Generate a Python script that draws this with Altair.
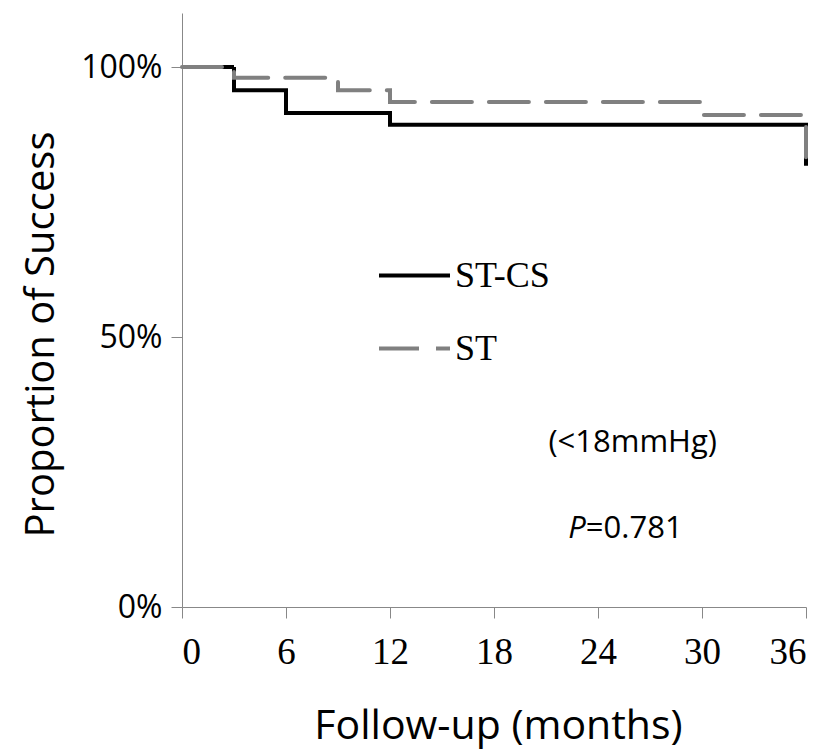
import altair as alt
import pandas as pd

# Kaplan-Meier style step data (months, proportion of success)
groups = ["ST-CS", "ST"]
months_stcs = [0, 3, 6, 12, 36]
succ_stcs = [1.0, 0.957, 0.915, 0.893, 0.817]
months_st = [0, 3, 9, 12, 30, 36]
succ_st = [1.0, 0.98, 0.957, 0.935, 0.911, 0.833]

x_ticks = [0, 6, 12, 18, 24, 30, 36]
y_ticks = [0, 0.5, 1.0]

note_text = ["(<18mmHg)"]
note_x = [26.0]
note_y = [0.287]
p_label = ["P"]
p_value = ["=0.781"]
p_x = [23.3]
p_y = [0.128]

df_stcs = pd.DataFrame({"month": months_stcs, "success": succ_stcs, "group": groups[0]})
df_st = pd.DataFrame({"month": months_st, "success": succ_st, "group": groups[1]})
df_note = pd.DataFrame({"month": note_x, "success": note_y, "label": note_text})
df_p = pd.DataFrame({"month": p_x, "success": p_y, "label": p_label})
df_pv = pd.DataFrame({"month": p_x, "success": p_y, "label": p_value})

color_scale = alt.Scale(domain=groups, range=["#000000", "#808080"])
dash_scale = alt.Scale(domain=groups, range=[[1, 0], [40, 17]])

legend_kw = dict(
    orient="none",
    legendX=195,
    legendY=225,
    title=None,
    symbolType="stroke",
    symbolSize=5041,
    symbolStrokeWidth=4,
    labelFont="Liberation Serif",
    labelFontSize=36,
    labelColor="black",
    labelOffset=3,
    rowPadding=17,
    padding=0,
)

x_enc = alt.X(
    "month:Q",
    scale=alt.Scale(domain=[0, 36], nice=False, zero=False),
    axis=alt.Axis(
        values=x_ticks,
        title="Follow-up (months)",
        titleFont="Open Sans",
        titleFontSize=41,
        titleFontWeight="normal",
        titleBaseline="alphabetic",
        titleAlign="center",
        titleX=316,
        titleY=131,
        labelFont="Liberation Serif",
        labelFontSize=37,
        labelPadding=16,
        tickSize=11,
    ),
)
y_enc = alt.Y(
    "success:Q",
    scale=alt.Scale(domain=[0, 1.1], nice=False),
    axis=alt.Axis(
        values=y_ticks,
        format="%",
        title="Proportion of Success",
        titleFont="Open Sans",
        titleFontSize=40,
        titleFontWeight="normal",
        titleBaseline="alphabetic",
        titleAlign="center",
        titleAngle=270,
        titleX=-129,
        titleY=321,
        labelFont="Open Sans",
        labelFontSize=32,
        labelPadding=9,
        tickSize=11,
    ),
)

def km_layer(df, cap):
    return alt.Chart(df).mark_line(interpolate="step-after", strokeWidth=4, strokeCap=cap).encode(
        x=x_enc,
        y=y_enc,
        color=alt.Color("group:N", scale=color_scale, legend=alt.Legend(**legend_kw), sort=groups),
        strokeDash=alt.StrokeDash("group:N", scale=dash_scale, legend=alt.Legend(**legend_kw), sort=groups),
    )

line_stcs = km_layer(df_stcs, "butt")
line_st = km_layer(df_st, "round")

note = alt.Chart(df_note).mark_text(
    font="Open Sans", fontSize=31, align="center", baseline="alphabetic", color="black"
).encode(x="month:Q", y="success:Q", text="label:N")

p_italic = alt.Chart(df_p).mark_text(
    font="Open Sans", fontSize=31, fontStyle="italic", align="right", baseline="alphabetic", color="black"
).encode(x="month:Q", y="success:Q", text="label:N")

p_val = alt.Chart(df_pv).mark_text(
    font="Open Sans", fontSize=31, align="left", baseline="alphabetic", color="black"
).encode(x="month:Q", y="success:Q", text="label:N")

chart = (
    alt.layer(line_stcs, line_st, note, p_italic, p_val)
    .properties(
        width=624,
        height=594,
        autosize=alt.AutoSizeParams(type="none"),
        padding={"left": 174, "top": 5, "right": 14, "bottom": 146},
    )
    .configure_view(stroke=None)
    .configure_axis(
        grid=False,
        domainColor="#888888",
        tickColor="#888888",
        labelColor="black",
        titleColor="black",
    )
)

chart.save("out.html", embed_options={"renderer": "svg", "actions": False})
